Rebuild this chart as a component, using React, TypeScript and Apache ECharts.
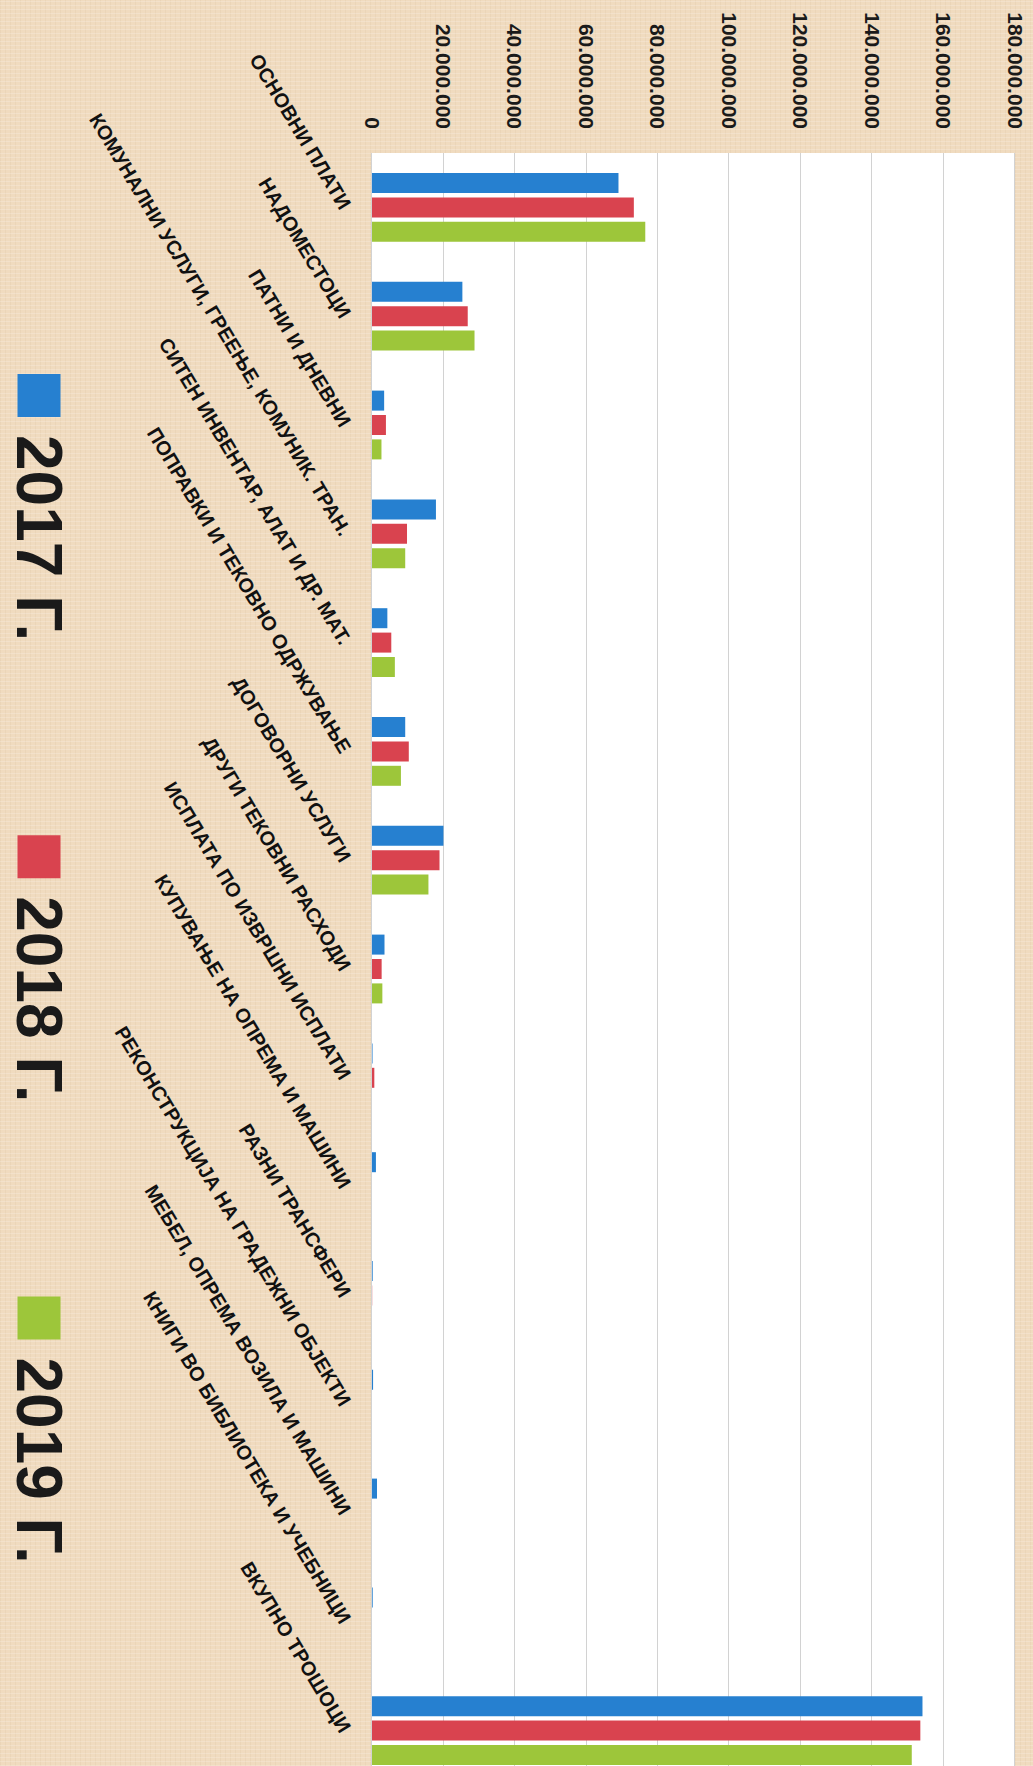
import React, { useEffect, useRef } from "react";
import * as echarts from "echarts";

const categories = [
  "ОСНОВНИ ПЛАТИ",
  "НАДОМЕСТОЦИ",
  "ПАТНИ И ДНЕВНИ",
  "КОМУНАЛНИ УСЛУГИ, ГРЕЕЊЕ, КОМУНИК. ТРАН.",
  "СИТЕН ИНВЕНТАР, АЛАТ И ДР. МАТ.",
  "ПОПРАВКИ И ТЕКОВНО ОДРЖУВАЊЕ",
  "ДОГОВОРНИ УСЛУГИ",
  "ДРУГИ ТЕКОВНИ РАСХОДИ",
  "ИСПЛАТА ПО ИЗВРШНИ ИСПЛАТИ",
  "КУПУВАЊЕ НА ОПРЕМА И МАШИНИ",
  "РАЗНИ ТРАНСФЕРИ",
  "РЕКОНСТРУКЦИЈА НА ГРАДЕЖНИ ОБЈЕКТИ",
  "МЕБЕЛ, ОПРЕМА ВОЗИЛА И МАШИНИ",
  "КНИГИ ВО БИБЛИОТЕКА И УЧЕБНИЦИ",
  "ВКУПНО ТРОШОЦИ",
];

const seriesNames = ["2017 Г.", "2018 Г.", "2019 Г."];

const values2017 = [
  69000000, 25300000, 3400000, 17900000, 4300000, 9300000, 20000000, 3500000,
  150000, 1100000, 200000, 300000, 1400000, 200000, 154100000,
];
const values2018 = [
  73300000, 26800000, 3900000, 9800000, 5400000, 10300000, 18900000, 2700000,
  650000, 0, 50000, 0, 0, 0, 153500000,
];
const values2019 = [
  76500000, 28700000, 2650000, 9300000, 6400000, 8100000, 15800000, 2900000,
  0, 0, 0, 0, 0, 0, 151100000,
];

const axisMin = 0;
const axisMax = 180000000;
const axisStep = 20000000;

const colors = ["#2680d0", "#d9434f", "#9dc63a"];

const formatValue = (v: number) =>
  String(Math.round(v)).replace(/\B(?=(\d{3})+(?!\d))/g, ".");

export default function App() {
  const ref = useRef<HTMLDivElement>(null);

  useEffect(() => {
    if (!ref.current) return;
    const chart = echarts.init(ref.current, null, { renderer: "svg" });
    const font = "'Liberation Sans', Arial, sans-serif";
    const data = [values2017, values2018, values2019];
    chart.setOption({
      animation: false,
      backgroundColor: "transparent",
      textStyle: { fontFamily: font },
      grid: {
        left: 153,
        top: 18,
        width: 1632,
        height: 643,
        show: true,
        backgroundColor: "#ffffff",
        borderWidth: 0,
      },
      legend: {
        data: seriesNames,
        left: 374,
        top: 962,
        orient: "horizontal",
        padding: 0,
        itemWidth: 43,
        itemHeight: 43,
        itemGap: 194,
        icon: "rect",
        textStyle: {
          fontSize: 64,
          fontWeight: "bold",
          color: "#1a1a1a",
          fontFamily: font,
          padding: [0, 0, 28, 13],
        },
      },
      xAxis: {
        type: "category",
        data: categories,
        axisLine: { show: false },
        axisTick: { show: false },
        axisLabel: {
          interval: 0,
          rotate: 31,
          margin: 26,
          fontSize: 20,
          fontWeight: "bold",
          color: "#111",
          fontFamily: font,
          hideOverlap: false,
        },
      },
      yAxis: {
        type: "value",
        min: axisMin,
        max: axisMax,
        interval: axisStep,
        axisLine: { show: false },
        axisTick: { show: false },
        splitLine: { show: true, lineStyle: { color: "#d2d2d2", width: 1 } },
        axisLabel: {
          margin: 24,
          fontSize: 21,
          fontWeight: "bold",
          color: "#1a1a1a",
          fontFamily: font,
          formatter: (v: number) => formatValue(v),
        },
      },
      series: seriesNames.map((name, i) => ({
        name,
        type: "bar",
        data: data[i],
        barWidth: 20,
        barGap: "22%",
        itemStyle: { color: colors[i] },
      })),
    });
    return () => chart.dispose();
  }, []);

  return (
    <div
      style={{
        position: "absolute",
        left: 0,
        top: 0,
        width: 1033,
        height: 1766,
        overflow: "hidden",
        backgroundColor: "#f0dbbf",
        backgroundImage:
          "repeating-linear-gradient(0deg, rgba(255,255,255,0.18) 0px, rgba(255,255,255,0.18) 1px, transparent 1px, transparent 4px), repeating-linear-gradient(90deg, rgba(190,160,120,0.10) 0px, rgba(190,160,120,0.10) 1px, transparent 1px, transparent 5px)",
      }}
    >
      <div
        ref={ref}
        style={{
          position: "absolute",
          left: 0,
          top: 0,
          width: 1810,
          height: 1033,
          transformOrigin: "0 0",
          transform: "translate(1033px, 0px) rotate(90deg)",
        }}
      />
    </div>
  );
}
